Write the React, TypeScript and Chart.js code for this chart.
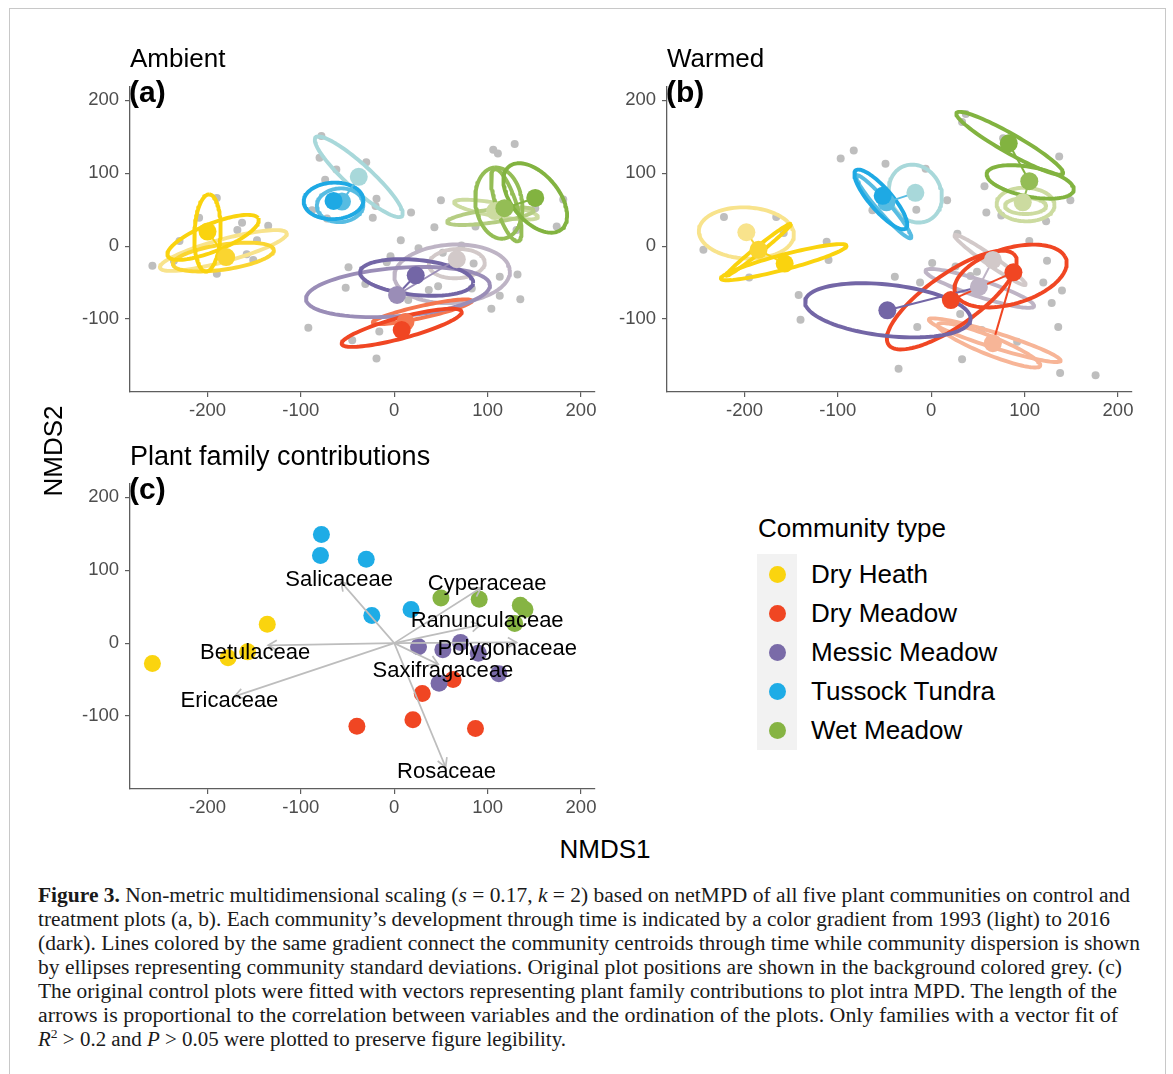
import React, { useEffect, useLayoutEffect, useRef } from "react";
import { Chart, registerables } from "chart.js";
Chart.register(...registerables);

const SANS = '"Liberation Sans", Arial, Helvetica, sans-serif';
const SERIF = '"Liberation Serif", "Times New Roman", serif';

// ---------- axes ----------
const X_TICKS = [-200, -100, 0, 100, 200];
const Y_TICKS = [-100, 0, 100, 200];
const X_MIN = -283;
const X_MAX = 215;
const Y_MIN = -200;
const Y_MAX = 218;

// ---------- communities ----------
const COMMUNITIES = ["Dry Heath", "Dry Meadow", "Messic Meadow", "Tussock Tundra", "Wet Meadow"];
const COMMUNITY_COLORS = ["#FAD40F", "#F04623", "#7A6BA8", "#1EACE6", "#86B443"];
// gradient 1993 (light) -> 2016 (dark), per community
const SHADES = [
  ["#F8E38C", "#F9DB5A", "#FAD530", "#FAD30E"],
  ["#F7B597", "#F69373", "#F5764F", "#F04623"],
  ["#D2C9C9", "#BEB4C5", "#9A8DB7", "#7366A6"],
  ["#A8D8DA", "#80CADF", "#57BCE2", "#1EA9E4"],
  ["#CCDBA0", "#B5CD82", "#94BD55", "#82B340"],
];
const GREY = "#BEBEBE";

// ---------- (a) Ambient ----------
const ambientPlots: [number, number][] = [
  [-259, -27], [-230, 7], [-190, 66], [-209, 39], [-163, 32], [-135, 28], [-168, 22], [-147, 8],
  [-158, -11], [-151, -19], [-190, -38], [-236, -20],
  [-78, 151], [-80, 121], [-62, 105], [-30, 115], [-74, 91], [-19, 65], [-23, 39], [18, 46], [-20, 55],
  [-88, 49], [-72, 38],
  [50, 63], [106, 132], [111, 127], [129, 140], [43, 26], [7, 8], [-49, -29], [-52, -57], [-31, -52],
  [-92, -112], [-45, -129], [-19, -154], [104, -86], [113, -68], [132, -39], [135, -73], [26, -3], [-4, -14],
  [151, 52], [174, 27], [181, 64], [87, 27], [131, 22], [113, -42], [85, -24], [52, -9], [72, 1],
  [83, -58], [47, -55], [-8, -22], [-16, -117], [15, -74], [37, -60],
];
// [community, shade, centre x, centre y, semi-axis a, semi-axis b, angle deg]
const ambientEllipses: number[][] = [
  [0, 0, -183, -6, 72, 15, 19.6],
  [0, 2, -183, -15, 55, 17, 11],
  [0, 3, -194, 12, 55, 18, 28.8],
  [0, 3, -200, 18, 53, 14, 88],
  [1, 2, 30, -90, 55, 8, 16],
  [1, 3, 8, -112, 68, 14, 19.4],
  [2, 0, 67, -24, 30, 20, 5],
  [2, 1, 62, -38, 62, 40, 5],
  [2, 2, 4, -63, 99, 33, 6],
  [2, 3, 24, -43, 61, 24, -7.6],
  [3, 0, -38, 95, 71, 15, -50],
  [3, 2, -58, 56, 25, 23, 15],
  [3, 3, -65, 62, 32, 25, 5],
  [4, 0, 109, 50, 46, 9, -13],
  [4, 1, 103, 41, 47, 9, 10],
  [4, 2, 112, 59, 49, 25, 95],
  [4, 2, 120, 56, 51, 11, 104],
  [4, 3, 151, 66, 52, 27, -62],
];
// [community, shade, x, y]  (in time order)
const ambientCentroids: number[][] = [
  [0, 2, -180, -15], [0, 3, -200, 20],
  [1, 2, 12, -104], [1, 3, 8, -115],
  [2, 0, 67, -18], [2, 2, 3, -67], [2, 3, 23, -40],
  [3, 0, -38, 95], [3, 2, -56, 61], [3, 3, -65, 62],
  [4, 0, 108, 48], [4, 2, 118, 52], [4, 3, 151, 66],
];

// ---------- (b) Warmed ----------
const warmedPlots: [number, number][] = [
  [-97, 120], [-83, 131], [-49, 113], [-222, 40], [-166, 40], [-244, -5], [-112, 6], [-110, -19],
  [-195, -43], [-142, -67], [-140, -101], [-39, -42], [-35, -168], [-63, 49], [-158, 18],
  [37, 181], [33, 170], [-6, 106], [17, 63], [-16, 50], [57, 82], [59, 46], [75, 42], [123, 34],
  [149, 63], [137, 123], [77, 148], [28, 17], [105, 7], [124, -20], [120, -50], [140, -61],
  [129, -78], [136, -111], [138, -174], [176, -177], [-15, -111], [33, -155], [1, -23], [-12, -50],
  [26, -28], [42, -41], [49, -35], [31, -93], [54, -115], [92, -131],
];
const warmedEllipses: number[][] = [
  [0, 0, -198, 18, 51, 35, -5],
  [0, 3, -185, -5, 49.5, 4, 45.8],
  [0, 3, -158, -22, 71, 10, 18.8],
  [1, 0, 68, -129, 76, 10, -22],
  [1, 0, 62, -136, 61.5, 12, -27.6],
  [1, 3, 22, -74, 91.6, 32, 44],
  [1, 3, 85, -41, 64, 37, 25],
  [2, 0, 63, -19, 51, 6, -42],
  [2, 1, 52, -58, 63, 11, -23],
  [2, 3, -46.5, -88, 89.5, 35, -8.7],
  [3, 0, -17, 72, 40, 28, -80],
  [3, 2, -51, 54, 52, 7, -56],
  [3, 3, -54, 64, 48, 13, -57],
  [4, 0, 101, 57, 31, 23, -3],
  [4, 0, 101, 55, 22, 11, 0],
  [4, 3, 106, 88, 48, 20, -15],
  [4, 3, 84, 141, 70.6, 12, -36.5],
];
const warmedCentroids: number[][] = [
  [0, 0, -198, 19], [0, 2, -185, -5], [0, 3, -157, -24],
  [1, 0, 66, -133], [1, 3, 88, -36], [1, 3, 21, -74],
  [2, 0, 66, -19], [2, 1, 51, -56], [2, 3, -47, -88],
  [3, 0, -17, 73], [3, 2, -48, 60], [3, 3, -52, 69],
  [4, 0, 98, 60], [4, 2, 105, 89], [4, 3, 83, 141],
];

// ---------- (c) Plant family contributions ----------
const plotCommunity = [3, 3, 3, 3, 3, 0, 0, 0, 0, 4, 4, 4, 4, 4, 2, 2, 2, 2, 2, 2, 1, 1, 1, 1, 1];
const plotX = [-78, -79, -30, -24, 18, -136, -157, -178, -259, 50, 91, 135, 140, 129, 26, 52, 71, 90, 112, 48, 63, 30, -40, 20, 87];
const plotY = [149, 120, 115, 38, 46, 26, -12, -20, -28, 62, 60, 52, 46, 27, -5, -9, 1, -14, -42, -55, -50, -69, -114, -105, -117];

const families = ["Salicaceae", "Cyperaceae", "Ranunculaceae", "Polygonaceae", "Saxifragaceae", "Rosaceae", "Ericaceae", "Betulaceae"];
const familyTipX = [-57, 93, 92, 131, 47, 55, -171, -135];
const familyTipY = [84, 76, 25, 1, -29, -170, -73, -3];
const familyLabelX = [-59, 99.5, 99.5, 121, 52, 56, -176.5, -149];
const familyLabelY = [87, 80.5, 31, -8, -38, -177, -79, -14];

// ---------- helpers ----------
function ellipsePath(cx: number, cy: number, a: number, b: number, deg: number) {
  const t = (deg * Math.PI) / 180;
  const pts: { x: number; y: number }[] = [];
  for (let i = 0; i <= 96; i++) {
    const u = (i / 96) * 2 * Math.PI;
    pts.push({
      x: cx + a * Math.cos(t) * Math.cos(u) - b * Math.sin(t) * Math.sin(u),
      y: cy + a * Math.sin(t) * Math.cos(u) + b * Math.cos(t) * Math.sin(u),
    });
  }
  return pts;
}

const AXIS_COLOR = "#5e5e5e";
const TICK_COLOR = "#4d4d4d";

function axis(ticks: number[], isX: boolean) {
  return {
    type: "linear",
    min: isX ? X_MIN : Y_MIN,
    max: isX ? X_MAX : Y_MAX,
    afterBuildTicks: (s: any) => {
      s.ticks = ticks.map((v) => ({ value: v }));
    },
    afterFit: (s: any) => {
      if (isX) s.height = 38;
      else s.width = 70;
    },
    grid: { display: true, drawOnChartArea: false, drawTicks: true, tickLength: 5, color: AXIS_COLOR, lineWidth: 1.2 },
    border: { display: true, color: AXIS_COLOR, width: 1.3 },
    ticks: {
      color: TICK_COLOR,
      font: { family: SANS, size: 18.5 },
      padding: isX ? 3 : 6,
      autoSkip: false,
      maxRotation: 0,
      includeBounds: false,
    },
  };
}

function baseOptions() {
  return {
    animation: false,
    responsive: false,
    maintainAspectRatio: false,
    events: [],
    layout: { padding: { top: 16, right: 25, left: 0, bottom: 0 } },
    plugins: { legend: { display: false }, tooltip: { enabled: false } },
    scales: { x: axis(X_TICKS, true), y: axis(Y_TICKS, false) },
  };
}

function ordinationConfig(plots: [number, number][], ellipses: number[][], centroids: number[][]) {
  const datasets: any[] = [];
  datasets.push({
    data: plots.map(([x, y]) => ({ x, y })),
    pointRadius: 4,
    pointBackgroundColor: GREY,
    pointBorderWidth: 0,
    showLine: false,
  });
  [...ellipses]
    .sort((p, q) => p[1] - q[1])
    .forEach(([c, s, cx, cy, a, b, ang]) =>
      datasets.push({
        data: ellipsePath(cx, cy, a, b, ang),
        showLine: true,
        borderColor: SHADES[c][s],
        borderWidth: 3.9,
        borderJoinStyle: "round",
        pointRadius: 0,
        fill: false,
      })
    );
  for (let c = 0; c < COMMUNITIES.length; c++) {
    const pts = centroids.filter((p) => p[0] === c);
    for (let i = 1; i < pts.length; i++) {
      datasets.push({
        data: [
          { x: pts[i - 1][2], y: pts[i - 1][3] },
          { x: pts[i][2], y: pts[i][3] },
        ],
        showLine: true,
        borderColor: SHADES[c][pts[i][1]],
        borderWidth: 2,
        pointRadius: 0,
      });
    }
  }
  const sorted = [...centroids].sort((p, q) => p[1] - q[1]);
  datasets.push({
    data: sorted.map((p) => ({ x: p[2], y: p[3] })),
    pointRadius: 9,
    pointBackgroundColor: sorted.map((p) => SHADES[p[0]][p[1]]),
    pointBorderWidth: 0,
    showLine: false,
  });
  datasets.forEach((d, i) => (d.order = -i));
  return { type: "scatter", data: { datasets }, options: baseOptions() };
}

const ARROW_COLOR = "#BDBDBD";

const familyPlugin = {
  id: "familyArrows",
  afterDatasetsDraw(chart: any) {
    const { ctx } = chart;
    const xs = chart.scales.x;
    const ys = chart.scales.y;
    ctx.save();
    ctx.strokeStyle = ARROW_COLOR;
    ctx.lineWidth = 1.7;
    const x0 = xs.getPixelForValue(0);
    const y0 = ys.getPixelForValue(0);
    families.forEach((_, i) => {
      const x1 = xs.getPixelForValue(familyTipX[i]);
      const y1 = ys.getPixelForValue(familyTipY[i]);
      const ang = Math.atan2(y1 - y0, x1 - x0);
      const L = 10;
      const A = Math.PI / 6;
      ctx.beginPath();
      ctx.moveTo(x1 - L * Math.cos(ang - A), y1 - L * Math.sin(ang - A));
      ctx.lineTo(x1, y1);
      ctx.lineTo(x1 - L * Math.cos(ang + A), y1 - L * Math.sin(ang + A));
      ctx.stroke();
    });
    ctx.fillStyle = "#000";
    ctx.font = `22px ${SANS}`;
    ctx.textAlign = "center";
    ctx.textBaseline = "middle";
    families.forEach((name, i) => {
      ctx.fillText(name, xs.getPixelForValue(familyLabelX[i]), ys.getPixelForValue(familyLabelY[i]));
    });
    ctx.restore();
  },
};

function contributionConfig() {
  const datasets: any[] = [];
  for (let c = 0; c < COMMUNITIES.length; c++) {
    const idx = plotCommunity.map((v, i) => (v === c ? i : -1)).filter((i) => i >= 0);
    datasets.push({
      data: idx.map((i) => ({ x: plotX[i], y: plotY[i] })),
      pointRadius: 8.5,
      pointBackgroundColor: COMMUNITY_COLORS[c],
      pointBorderWidth: 0,
      showLine: false,
    });
  }
  families.forEach((_, i) =>
    datasets.push({
      data: [
        { x: 0, y: 0 },
        { x: familyTipX[i], y: familyTipY[i] },
      ],
      showLine: true,
      borderColor: ARROW_COLOR,
      borderWidth: 1.7,
      pointRadius: 0,
    })
  );
  datasets.forEach((d, i) => (d.order = -i));
  return { type: "scatter", data: { datasets }, options: baseOptions(), plugins: [familyPlugin] };
}

function ChartBox({ build, left, top, w, h }: any) {
  const ref = useRef<HTMLCanvasElement>(null);
  useEffect(() => {
    const chart = new Chart(ref.current as HTMLCanvasElement, build());
    return () => chart.destroy();
  }, []);
  return (
    <canvas
      ref={ref}
      width={w}
      height={h}
      style={{ position: "absolute", left, top, width: w, height: h }}
    />
  );
}

const CAPTION_WIDTHS = [1092, 1072, 1102, 1084, 1079, 1080, 528];

function Caption() {
  const refs = useRef<(HTMLSpanElement | null)[]>([]);
  useLayoutEffect(() => {
    refs.current.forEach((el, i) => {
      if (!el) return;
      el.style.transform = "none";
      const w = el.getBoundingClientRect().width;
      if (w > 0) el.style.transform = `scaleX(${CAPTION_WIDTHS[i] / w})`;
    });
  }, []);
  const lines: React.ReactNode[] = [
    <>
      <b>Figure 3.</b> Non-metric multidimensional scaling (<i>s</i> = 0.17, <i>k</i> = 2) based on netMPD of all five plant communities on control and
    </>,
    <>treatment plots (a, b). Each community’s development through time is indicated by a color gradient from 1993 (light) to 2016</>,
    <>(dark). Lines colored by the same gradient connect the community centroids through time while community dispersion is shown</>,
    <>by ellipses representing community standard deviations. Original plot positions are shown in the background colored grey. (c)</>,
    <>The original control plots were fitted with vectors representing plant family contributions to plot intra MPD. The length of the</>,
    <>arrows is proportional to the correlation between variables and the ordination of the plots. Only families with a vector fit of</>,
    <>
      <i>R</i>
      <sup style={{ fontSize: "0.65em", lineHeight: 0 }}>2</sup> &gt; 0.2 and <i>P</i> &gt; 0.05 were plotted to preserve figure legibility.
    </>,
  ];
  return (
    <>
      {lines.map((ln, i) => (
        <span
          key={i}
          ref={(el) => {
            refs.current[i] = el;
          }}
          style={{
            position: "absolute",
            left: 38,
            top: 883 + i * 24,
            display: "inline-block",
            whiteSpace: "nowrap",
            fontFamily: SERIF,
            fontSize: 20.5,
            lineHeight: "24px",
            color: "#1a1a1a",
            transformOrigin: "0 0",
          }}
        >
          {ln}
        </span>
      ))}
    </>
  );
}

function Txt({ left, top, size, bold, children }: any) {
  return (
    <div
      style={{
        position: "absolute",
        left,
        top,
        fontFamily: SANS,
        fontSize: size,
        lineHeight: `${size}px`,
        fontWeight: bold ? "bold" : "normal",
        whiteSpace: "nowrap",
        color: "#000",
      }}
    >
      {children}
    </div>
  );
}

export default function App() {
  const legendY = [574, 613, 652, 691, 730];
  return (
    <div
      style={{
        position: "absolute",
        left: 0,
        top: 0,
        width: 1173,
        height: 1074,
        overflow: "hidden",
        background: "#fff",
      }}
    >
      <div
        style={{
          position: "absolute",
          left: 9,
          top: 8,
          width: 1155,
          height: 1070,
          borderTop: "1px solid #c8c8c8",
          borderLeft: "1px solid #c8c8c8",
          borderRight: "1px solid #c8c8c8",
        }}
      />
      <ChartBox build={() => ordinationConfig(ambientPlots, ambientEllipses, ambientCentroids)} left={60} top={70} w={560} h={360} />
      <ChartBox build={() => ordinationConfig(warmedPlots, warmedEllipses, warmedCentroids)} left={597} top={70} w={560} h={360} />
      <ChartBox build={() => contributionConfig()} left={60} top={467} w={560} h={360} />

      <Txt left={130} top={45} size={26}>Ambient</Txt>
      <Txt left={129} top={77} size={30} bold>(a)</Txt>
      <Txt left={667} top={45} size={26}>Warmed</Txt>
      <Txt left={666} top={77} size={30} bold>(b)</Txt>
      <Txt left={130} top={443} size={27}>Plant family contributions</Txt>
      <Txt left={129} top={474} size={30} bold>(c)</Txt>

      <div
        style={{
          position: "absolute",
          left: 53 - 60,
          top: 451 - 13,
          width: 120,
          height: 26,
          lineHeight: "26px",
          fontSize: 26,
          fontFamily: SANS,
          textAlign: "center",
          transform: "rotate(-90deg)",
          color: "#000",
        }}
      >
        NMDS2
      </div>
      <div
        style={{
          position: "absolute",
          left: 605 - 80,
          top: 836,
          width: 160,
          lineHeight: "26px",
          fontSize: 26,
          fontFamily: SANS,
          textAlign: "center",
          color: "#000",
        }}
      >
        NMDS1
      </div>

      <Txt left={758} top={515} size={26}>Community type</Txt>
      <div style={{ position: "absolute", left: 757, top: 554, width: 40, height: 196, background: "#F2F2F2" }} />
      {COMMUNITIES.map((name, i) => (
        <React.Fragment key={name}>
          <div
            style={{
              position: "absolute",
              left: 777 - 8.5,
              top: legendY[i] - 8.5,
              width: 17,
              height: 17,
              borderRadius: "50%",
              background: COMMUNITY_COLORS[i],
            }}
          />
          <Txt left={811} top={legendY[i] - 12.7} size={26}>
            {name}
          </Txt>
        </React.Fragment>
      ))}

      <Caption />
    </div>
  );
}
